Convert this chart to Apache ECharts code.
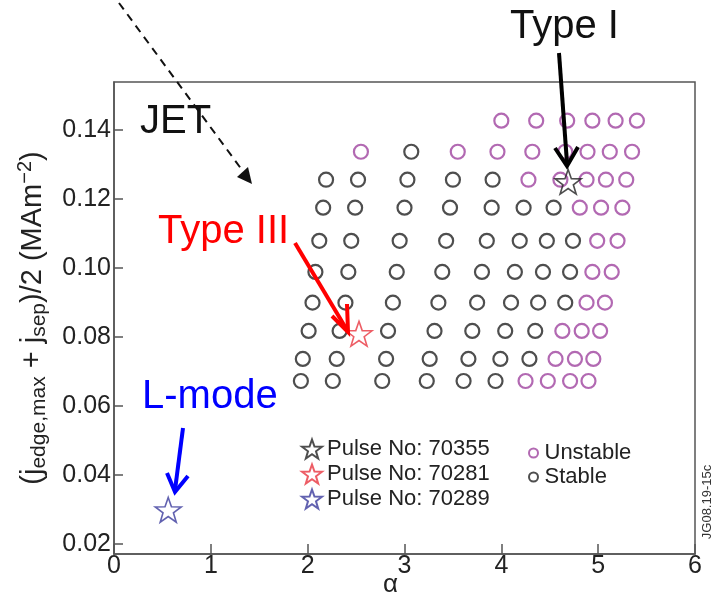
<!DOCTYPE html>
<html>
<head>
<meta charset="utf-8">
<script src="https://cdn.jsdelivr.net/npm/echarts@6/dist/echarts.min.js"></script>
<style>
html,body{margin:0;padding:0;background:#fff;}
#chart{width:715px;height:599px;}
</style>
</head>
<body>
<div id="chart"></div>
<script>
// ---- data (alpha, (j_edge,max + j_sep)/2) ----
const stableAlpha = [
  3.07,
  2.19, 2.52, 3.03, 3.50, 3.91,
  2.16, 2.49, 3.00, 3.47, 3.90, 4.23, 4.54,
  2.12, 2.45, 2.95, 3.43, 3.85, 4.19, 4.47, 4.74,
  2.08, 2.42, 2.92, 3.39, 3.80, 4.14, 4.43, 4.71,
  2.05, 2.39, 2.88, 3.35, 3.75, 4.10, 4.38, 4.66,
  2.01, 2.33, 2.83, 3.31, 3.70, 4.04, 4.35,
  1.95, 2.30, 2.81, 3.26, 3.66, 3.99, 4.29,
  1.93, 2.26, 2.77, 3.23, 3.61, 3.94
];
const stableJ = [
  0.1336,
  0.1255, 0.1255, 0.1255, 0.1255, 0.1255,
  0.1174, 0.1174, 0.1174, 0.1174, 0.1174, 0.1174, 0.1174,
  0.1078, 0.1078, 0.1078, 0.1078, 0.1078, 0.1078, 0.1078, 0.1078,
  0.0988, 0.0988, 0.0988, 0.0988, 0.0988, 0.0988, 0.0988, 0.0988,
  0.0899, 0.0899, 0.0899, 0.0899, 0.0899, 0.0899, 0.0899, 0.0899,
  0.0817, 0.0817, 0.0817, 0.0817, 0.0817, 0.0817, 0.0817,
  0.0736, 0.0736, 0.0736, 0.0736, 0.0736, 0.0736, 0.0736,
  0.0672, 0.0672, 0.0672, 0.0672, 0.0672, 0.0672
];
const unstableAlpha = [
  4.00, 4.36, 4.68, 4.94, 5.18, 5.40,
  2.55, 3.55, 3.96, 4.32, 4.66, 4.89, 5.12, 5.35,
  4.28, 4.61, 4.88, 5.08, 5.29,
  4.81, 5.03, 5.25,
  4.99, 5.20,
  4.94, 5.14,
  4.88, 5.07,
  4.63, 4.83, 5.02,
  4.56, 4.76, 4.95,
  4.25, 4.48, 4.71, 4.90
];
const unstableJ = [
  0.1426, 0.1426, 0.1426, 0.1426, 0.1426, 0.1426,
  0.1336, 0.1336, 0.1336, 0.1336, 0.1336, 0.1336, 0.1336, 0.1336,
  0.1255, 0.1255, 0.1255, 0.1255, 0.1255,
  0.1174, 0.1174, 0.1174,
  0.1078, 0.1078,
  0.0988, 0.0988,
  0.0899, 0.0899,
  0.0817, 0.0817, 0.0817,
  0.0736, 0.0736, 0.0736,
  0.0672, 0.0672, 0.0672, 0.0672
];
const pulseNames = ['Pulse No: 70355', 'Pulse No: 70281', 'Pulse No: 70289'];
const pulseAlpha = [4.69, 2.53, 0.56];
const pulseJ = [0.1249, 0.0809, 0.0299];
const yTicks = [0.02, 0.04, 0.06, 0.08, 0.10, 0.12, 0.14];

// ---- styling ----
const pulseColors = ['#222222', '#e8343e', '#3b3b9c'];
const STAR = 'path://M50,0 L61.76,33.82 L97.55,34.55 L69.02,56.18 L79.39,90.45 L50,70 L20.61,90.45 L30.98,56.18 L2.45,34.55 L38.24,33.82 Z';
const FONT = 'Liberation Sans';

function pairs(xs, ys) { return xs.map((x, i) => [x, ys[i]]); }

const series = [
  {
    name: 'Stable', type: 'scatter', symbol: 'circle', symbolSize: 14,
    data: pairs(stableAlpha, stableJ),
    itemStyle: { color: 'rgba(0,0,0,0)', borderColor: '#222', borderWidth: 2.2 },
    z: 2
  },
  {
    name: 'Unstable', type: 'scatter', symbol: 'circle', symbolSize: 14,
    data: pairs(unstableAlpha, unstableJ),
    itemStyle: { color: 'rgba(0,0,0,0)', borderColor: '#9f449f', borderWidth: 2.2 },
    z: 2
  }
];
pulseNames.forEach((n, i) => {
  series.push({
    name: n, type: 'scatter', symbol: STAR, symbolSize: 26, symbolKeepAspect: true,
    data: [[pulseAlpha[i], pulseJ[i]]],
    itemStyle: { color: 'rgba(255,255,255,0)', borderColor: pulseColors[i], borderWidth: 1.6 },
    z: 3
  });
});

function arrowV(tip, a1, a2, color, w) {
  return {
    type: 'polyline', z: 100,
    shape: { points: [a1, tip, a2] },
    style: { stroke: color, lineWidth: w, fill: null, lineJoin: 'miter' }
  };
}

const chart = echarts.init(document.getElementById('chart'), null, { renderer: 'canvas' });
chart.setOption({
  animation: false,
  backgroundColor: '#fff',
  grid: { left: 114, right: 20, top: 82, bottom: 45, outerBoundsMode: 'none', containLabel: false,
    show: true, borderColor: '#555', borderWidth: 1.5, backgroundColor: 'rgba(0,0,0,0)' },
  xAxis: {
    type: 'value', min: 0, max: 6, interval: 1,
    axisLine: { show: true, lineStyle: { color: '#555', width: 1.5 } },
    axisTick: { show: true, inside: true, length: 10, lineStyle: { color: '#555', width: 1.5 } },
    axisLabel: { fontFamily: FONT, fontSize: 25, color: '#222', margin: 0 },
    splitLine: { show: false },
    name: 'α', nameLocation: 'middle', nameGap: 18, nameMoveOverlap: false,
    nameTextStyle: { fontFamily: FONT, fontSize: 26, color: '#222', padding: [0, 28, 0, 0] }
  },
  yAxis: {
    type: 'value', min: 0.0171, max: 0.1538,
    axisLine: { show: true, lineStyle: { color: '#555', width: 1.5 } },
    axisTick: { show: true, inside: true, length: 9, customValues: yTicks, lineStyle: { color: '#555', width: 1.5 } },
    axisLabel: { fontFamily: FONT, fontSize: 25, color: '#222', margin: 3, customValues: yTicks,
      formatter: v => v.toFixed(2) },
    splitLine: { show: false },
    name: '{p|(j}{s|edge,max}{p| + j}{s|sep}{p|)/2 (MAm}{u|−2}{p|)}',
    nameLocation: 'middle', nameRotate: 90, nameGap: 64, nameMoveOverlap: false,
    nameTextStyle: {
      padding: [0, 0, 0, 0],
      rich: {
        p: { fontFamily: FONT, fontSize: 29, color: '#222', lineHeight: 35 },
        s: { fontFamily: FONT, fontSize: 21, color: '#222', lineHeight: 21, verticalAlign: 'bottom' },
        u: { fontFamily: FONT, fontSize: 20, color: '#222', lineHeight: 20, verticalAlign: 'top' }
      }
    }
  },
  legend: [
    {
      data: pulseNames, orient: 'vertical', left: 296, top: 433,
      itemWidth: 20, itemHeight: 20, itemGap: 3, selectedMode: false,
      textStyle: { fontFamily: FONT, fontSize: 22, color: '#222' }
    },
    {
      data: ['Unstable', 'Stable'], orient: 'vertical', left: 523, top: 437,
      itemWidth: 12, itemHeight: 9, itemGap: 2, selectedMode: false,
      textStyle: { fontFamily: FONT, fontSize: 22, color: '#222' }
    }
  ],
  graphic: [
    { type: 'text', z: 100, style: { text: 'JET', x: 140, y: 122, font: '40px "Liberation Sans"', fill: '#111', verticalAlign: 'middle' } },
    { type: 'text', z: 100, style: { text: 'Type I', x: 510, y: 27, font: '40px "Liberation Sans"', fill: '#111', verticalAlign: 'middle' } },
    { type: 'text', z: 100, style: { text: 'Type III', x: 158, y: 232, font: '40px "Liberation Sans"', fill: '#ff0000', verticalAlign: 'middle' } },
    { type: 'text', z: 100, style: { text: 'L-mode', x: 142, y: 397, font: '40px "Liberation Sans"', fill: '#0000ff', verticalAlign: 'middle' } },
    { type: 'text', z: 100, rotation: Math.PI / 2, x: 707, y: 502,
      style: { text: 'JG08.19-15c', x: 0, y: 0, font: '13px "Liberation Sans"', fill: '#333', align: 'center', verticalAlign: 'middle' } },
    // dashed arrow
    { type: 'line', z: 100, shape: { x1: 119, y1: 3, x2: 245, y2: 174 }, style: { stroke: '#111', lineWidth: 2, lineDash: [8, 6] } },
    { type: 'polygon', z: 100, shape: { points: [[252, 184], [237, 177], [248, 167]] }, style: { fill: '#111' } },
    // Type I arrow
    { type: 'line', z: 100, shape: { x1: 559, y1: 53, x2: 567, y2: 163 }, style: { stroke: '#000', lineWidth: 4 } },
    arrowV([567, 166], [555, 148], [578, 147], '#000', 4),
    // Type III arrow
    { type: 'line', z: 100, shape: { x1: 295, y1: 243, x2: 347, y2: 330 }, style: { stroke: '#ff0000', lineWidth: 4 } },
    arrowV([348, 332], [332, 316], [347, 304], '#ff0000', 4),
    // L-mode arrow
    { type: 'line', z: 100, shape: { x1: 183, y1: 428, x2: 175, y2: 490 }, style: { stroke: '#0000ff', lineWidth: 4 } },
    arrowV([175, 492], [167, 473], [188, 476], '#0000ff', 4)
  ],
  series: series
});
</script>
</body>
</html>
